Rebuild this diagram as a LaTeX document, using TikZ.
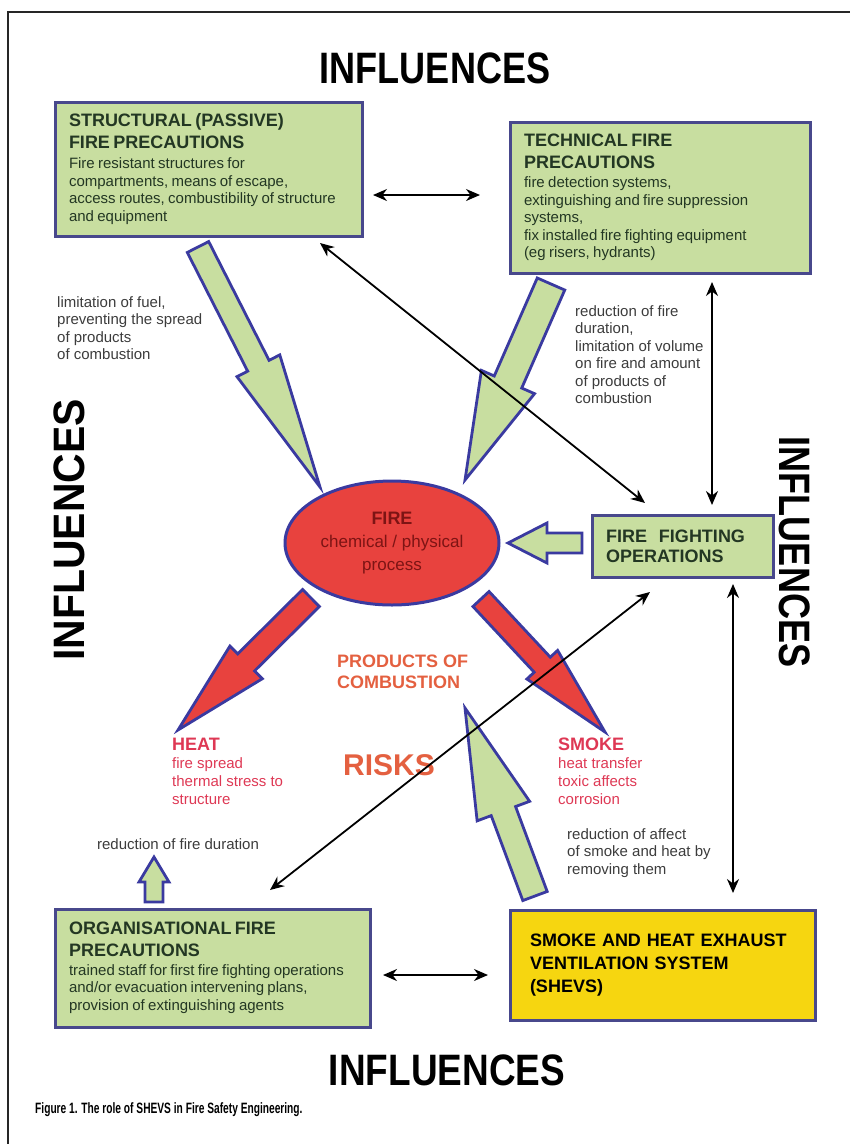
\documentclass[tikz,border=0pt]{standalone}
\usepackage{fontspec}
\setmainfont{Liberation Sans}
\usepackage{graphicx}
\usetikzlibrary{shapes.geometric, arrows.meta, calc, positioning}

\definecolor{boxgreen}{RGB}{200,222,160}
\definecolor{boxline}{RGB}{72,72,140}
\definecolor{arrowline}{RGB}{58,58,160}
\definecolor{firered}{RGB}{232,66,62}
\definecolor{firetext}{RGB}{125,20,20}
\definecolor{shevsyellow}{RGB}{246,214,16}
\definecolor{boxtext}{RGB}{35,55,35}
\definecolor{notegray}{RGB}{60,60,60}
\definecolor{riskred}{RGB}{228,96,64}
\definecolor{heatred}{RGB}{222,56,84}

\newcommand{\titlefont}{\fontsize{18}{22}\selectfont\bfseries}
\newcommand{\notefont}{\fontsize{15}{17.5}\selectfont}
\newcommand{\bigfont}{\fontsize{44}{50}\selectfont\bfseries}

% block arrow: style, start, tip, shaft half width, head half width, head length
\newcommand{\blockarrow}[6][]{%
  \draw[#1] ($(#2)!#4!90:(#3)$) -- ($(#3)!#6!(#2)!#4!-90:(#2)$)
    -- ($(#3)!#6!(#2)!#5!-90:(#2)$) -- (#3) -- ($(#3)!#6!(#2)!#5!90:(#2)$)
    -- ($(#3)!#6!(#2)!#4!90:(#2)$) -- ($(#2)!#4!-90:(#3)$) -- cycle;}

\begin{document}
\begin{tikzpicture}[x=1pt, y=-1pt,
    box/.style={draw=boxline, line width=3pt, fill=boxgreen, text=boxtext, align=left, inner xsep=14pt, inner ysep=0pt},
    note/.style={text=notegray, font=\notefont, align=left, inner sep=0pt, anchor=north west},
    link/.style={{Stealth[length=14pt,width=12pt]}-{Stealth[length=14pt,width=12pt]}, line width=1.8pt},
    greenarrow/.style={draw=arrowline, line width=2.8pt, fill=boxgreen},
    redarrow/.style={draw=arrowline, line width=2.8pt, fill=firered}]

  \useasboundingbox (0,0) rectangle (850,1144);

  % Frame
  \draw[line width=2pt, black!85] (8,1144) -- (8,12) -- (850,12);

  % Headings
  \node[font=\bigfont] (inflnorth) at (435,68) {\scalebox{0.82}[1]{INFLUENCES}};
  \node[font=\bigfont] (inflsouth) at (447,1070) {\scalebox{0.84}[1]{INFLUENCES}};
  \node[font=\bigfont, rotate=90] (inflwest) at (69,530) {\scalebox{0.93}[1]{INFLUENCES}};
  \node[font=\bigfont, rotate=-90] (infleast) at (795,552) {\scalebox{0.82}[1]{INFLUENCES}};

  % Boxes
  \node[box, text width=279pt, minimum height=134pt] (struct) at (208.5,169)
    {{\titlefont STRUCTURAL (PASSIVE)\\FIRE PRECAUTIONS\par}\vspace{3pt}
     {\notefont Fire resistant structures for\\compartments, means of escape,\\access routes, combustibility of structure\\and equipment\par}};
  \node[box, text width=272pt, minimum height=151pt] (tech) at (660,197.5)
    {{\titlefont TECHNICAL FIRE\\PRECAUTIONS\par}\vspace{2pt}
     {\notefont fire detection systems,\\extinguishing and fire suppression\\systems,\\fix installed fire fighting equipment\\(eg risers, hydrants)\par}};
  \node[box, text width=153pt, minimum height=62pt, font=\fontsize{18}{20}\selectfont\bfseries] (fight) at (682.5,546)
    {FIRE\ \ FIGHTING\\OPERATIONS};
  \node[box, text width=287pt, minimum height=118pt] (organ) at (212.5,968)
    {{\titlefont ORGANISATIONAL FIRE\\PRECAUTIONS\par}\vspace{1pt}
     {\notefont trained staff for first fire fighting operations\\and/or evacuation intervening plans,\\provision of extinguishing agents\par}};
  \node[box, fill=shevsyellow, text=black, inner xsep=20pt, text width=265pt, minimum height=110pt, font=\fontsize{18}{23}\selectfont\bfseries] (shevs) at (662.5,965)
    {SMOKE AND HEAT EXHAUST\\VENTILATION SYSTEM\\(SHEVS)};

  % Fire
  \node[ellipse, draw=arrowline, line width=3pt, fill=firered, minimum width=214pt, minimum height=124pt,
        inner sep=0pt, text=firetext, align=center, font=\fontsize{17}{23}\selectfont] (fire) at (392,543)
    {{\fontsize{18}{23}\selectfont\bfseries FIRE}\\chemical / physical\\process};

  % Notes
  \node[note] (fuelnote) at (57,296) {limitation of fuel,\\preventing the spread\\of products\\of combustion};
  \node[note] (technote) at (575,305) {reduction of fire\\duration,\\limitation of volume\\on fire and amount\\of products of\\combustion};
  \node[text=notegray, font=\notefont, inner sep=0pt] (organnote) at (178,844) {reduction of fire duration};
  \node[note] (shevsnote) at (567,828) {reduction of affect\\of smoke and heat by\\removing them};

  % Risks
  \node[anchor=north west, inner sep=0pt, align=left, text=riskred, font=\fontsize{18}{21}\selectfont\bfseries] (products) at (337,655) {PRODUCTS OF\\COMBUSTION};
  \node[text=riskred, font=\fontsize{30}{34}\selectfont\bfseries, inner sep=0pt] (risks) at (389,765) {RISKS};
  \node[note, text=heatred, font=\fontsize{15}{18}\selectfont] (heat) at (172,738)
    {{\fontsize{18}{20}\selectfont\bfseries HEAT}\\fire spread\\thermal stress to\\structure};
  \node[note, text=heatred, font=\fontsize{15}{18}\selectfont] (smoke) at (558,738)
    {{\fontsize{18}{20}\selectfont\bfseries SMOKE}\\heat transfer\\toxic affects\\corrosion};

  % Block arrows
  \coordinate (structfoot) at (198,247);
  \coordinate (firenw) at (320,487);
  \coordinate (techfoot) at (551,284);
  \coordinate (firene) at (465,480);
  \coordinate (fightside) at (582,543);
  \coordinate (fireeast) at (508,543);
  \coordinate (shevshead) at (535,896);
  \coordinate (productsin) at (465,708);
  \coordinate (firesw) at (311,598);
  \coordinate (heattip) at (178,730);
  \coordinate (firese) at (481,599);
  \coordinate (smoketip) at (605,732);
  \coordinate (organtop) at (154,902);
  \coordinate (organtip) at (154,857);
  \blockarrow[greenarrow]{structfoot}{firenw}{12pt}{24pt}{136pt}
  \blockarrow[greenarrow]{techfoot}{firene}{15pt}{29pt}{107pt}
  \blockarrow[greenarrow]{fightside}{fireeast}{10pt}{20pt}{39pt}
  \blockarrow[greenarrow]{shevshead}{productsin}{13pt}{28pt}{110pt}
  \blockarrow[redarrow]{firesw}{heattip}{12pt}{23pt}{96pt}
  \blockarrow[redarrow]{firese}{smoketip}{11pt}{21pt}{92pt}
  \blockarrow[greenarrow]{organtop}{organtip}{9pt}{15pt}{25pt}

  % Links
  \coordinate (structright) at (373,195);
  \coordinate (techleft) at (480,195);
  \coordinate (structcorner) at (320,243);
  \coordinate (fighttopl) at (645,503);
  \coordinate (techbottom) at (712,282);
  \coordinate (fighttop) at (712,505);
  \coordinate (organcorner) at (270,890);
  \coordinate (fightbotl) at (650,592);
  \coordinate (fightbottom) at (733,584);
  \coordinate (shevstop) at (733,893);
  \coordinate (organright) at (383,975);
  \coordinate (shevsleft) at (488,975);
  \draw[link] (structright) -- (techleft);
  \draw[link] (structcorner) -- (fighttopl);
  \draw[link] (techbottom) -- (fighttop);
  \draw[link] (organcorner) -- (fightbotl);
  \draw[link] (fightbottom) -- (shevstop);
  \draw[link] (organright) -- (shevsleft);

  % Caption
  \node[anchor=west, inner sep=0pt, font=\fontsize{15}{17}\selectfont\bfseries] (caption) at (35,1110)
    {\scalebox{0.68}[1]{Figure 1. The role of SHEVS in Fire Safety Engineering.}};
\end{tikzpicture}
\end{document}
